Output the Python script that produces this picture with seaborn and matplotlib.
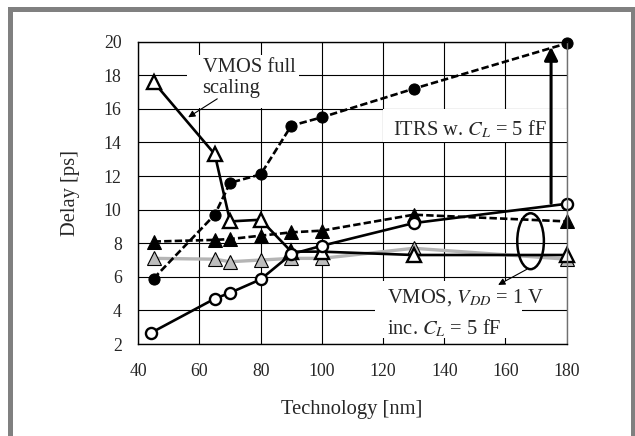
import numpy as np
import pandas as pd
import seaborn as sns

import matplotlib
matplotlib.use("Agg")
import matplotlib.pyplot as plt
from matplotlib.patches import Rectangle, Ellipse


'''
Data read off the chart
'''

tech_nm = [45, 65, 70, 80, 90, 100, 130, 180]
tech_nm_open = [44, 65, 70, 80, 90, 100, 130, 180]

itrs_delay = [5.9, 9.7, 11.6, 12.1, 15.0, 15.5, 17.2, 19.9]       # ITRS w. C_L = 5 fF
vmos_full_delay = [17.6, 13.3, 9.3, 9.4, 7.5, 7.5, 7.3, 7.3]       # VMOS full scaling
vmos_vdd_filled = [8.1, 8.2, 8.25, 8.45, 8.65, 8.75, 9.7, 9.3]     # dashed, filled triangles
vmos_vdd_gray = [7.1, 7.05, 6.9, 7.0, 7.1, 7.1, 7.7, 7.05]         # grey triangles
vmos_vdd_open = [2.65, 4.7, 5.05, 5.85, 7.35, 7.85, 9.2, 10.35]    # open circles

x_ticks = [40, 60, 80, 100, 120, 140, 160, 180]
y_ticks = [2, 4, 6, 8, 10, 12, 14, 16, 18, 20]


sns.set_theme(style="whitegrid", rc={
    "grid.color": "black",
    "grid.linewidth": 0.8,
    "axes.edgecolor": "black",
    "axes.linewidth": 1.0,
    "xtick.direction": "in",
    "ytick.direction": "in",
})
plt.rcParams["font.family"] = ["Liberation Serif", "DejaVu Serif"]
plt.rcParams["mathtext.fontset"] = "stix"

fig = plt.figure(figsize=(6.35, 4.36), dpi=100)
ax = fig.add_axes([0.2178, 0.2110, 0.6746, 0.6933])

dash = (0, (2.8, 1.2))
lw = 1.9

# grey triangles (bottom layer)
sns.lineplot(x=tech_nm, y=vmos_vdd_gray, ax=ax, color="#b5b5b5", lw=2.4,
             marker="^", markersize=10, markerfacecolor="#bdbdbd",
             markeredgecolor="black", markeredgewidth=0.8, zorder=3,
             clip_on=False)
# filled triangles, dashed
sns.lineplot(x=tech_nm, y=vmos_vdd_filled, ax=ax, color="black", lw=lw,
             linestyle=dash, marker="^", markersize=10,
             markerfacecolor="black", markeredgecolor="black", zorder=4,
             clip_on=False)
# VMOS full scaling, open triangles
sns.lineplot(x=tech_nm, y=vmos_full_delay, ax=ax, color="black", lw=lw,
             marker="^", markersize=9.5, markerfacecolor="white",
             markeredgecolor="black", markeredgewidth=1.7, zorder=5,
             clip_on=False)
# open circles
sns.lineplot(x=tech_nm_open, y=vmos_vdd_open, ax=ax, color="black", lw=lw,
             marker="o", markersize=8, markerfacecolor="white",
             markeredgecolor="black", markeredgewidth=1.7, zorder=6,
             clip_on=False)
# ITRS, filled circles, dashed
sns.lineplot(x=tech_nm, y=itrs_delay, ax=ax, color="black", lw=lw,
             linestyle=dash, marker="o", markersize=8,
             markerfacecolor="black", markeredgecolor="black", zorder=7,
             clip_on=False)

ax.set_xlim(40, 180)
ax.set_ylim(2, 20)
ax.set_xticks(x_ticks)
ax.set_yticks(y_ticks)
ax.tick_params(axis="both", labelsize=12.8, length=4, width=0.8, color="black")
ax.tick_params(axis="x", pad=14)
ax.tick_params(axis="y", pad=12)
ax.spines["right"].set_color("#707070")
for s in ["left", "top", "bottom", "right"]:
    ax.spines[s].set_zorder(8)

ax.set_xlabel("Technology [nm]", fontsize=14.8)
ax.set_ylabel("Delay [ps]", fontsize=14.8)
ax.xaxis.set_label_coords(0.499, -0.185)
ax.yaxis.set_label_coords(-0.136, 0.5)

# white boxes behind the labels (hide the grid)
ax.add_patch(Rectangle((55.9, 16.05), 36.6, 3.15, facecolor="white",
                       edgecolor="none", zorder=2))
ax.add_patch(Rectangle((120.0, 14.03), 60.0, 1.95, facecolor="white",
                       edgecolor="none", zorder=2))
ax.add_patch(Rectangle((117.3, 2.36), 48.1, 3.39, facecolor="white",
                       edgecolor="none", zorder=2))

fs = 14.8
ax.text(61.0, 18.21, "VMOS full", fontsize=fs, va="baseline", zorder=9)
ax.text(61.0, 16.93, "scaling", fontsize=fs, va="baseline", zorder=9)
ax.text(123.1, 14.45, "ITRS w. $C_L$ = 5 fF", fontsize=fs, va="baseline", zorder=9)
ax.text(121.2, 4.45, "VMOS, $V_{DD}$ = 1 V", fontsize=fs, va="baseline", zorder=9)
ax.text(121.2, 2.6, "inc. $C_L$ = 5 fF", fontsize=fs, va="baseline", zorder=9)

# arrows
ax.annotate("", xy=(56.3, 15.5), xytext=(65.8, 16.6),
            arrowprops=dict(arrowstyle="-|>", lw=0.8, color="black",
                            mutation_scale=10, shrinkA=0, shrinkB=0), zorder=9)
ax.annotate("", xy=(174.9, 19.7), xytext=(174.9, 10.38),
            arrowprops=dict(arrowstyle="-|>", lw=2.2, color="black",
                            mutation_scale=20, shrinkA=0, shrinkB=0), zorder=9)
ax.annotate("", xy=(157.6, 5.52), xytext=(167.0, 6.45),
            arrowprops=dict(arrowstyle="-|>", lw=0.8, color="black",
                            mutation_scale=10, shrinkA=0, shrinkB=0), zorder=9)
ax.add_patch(Ellipse((168.2, 8.12), 8.7, 3.33, fill=False, lw=1.8,
                     edgecolor="black", zorder=9))

# grey frame round the figure
fig.patches.append(Rectangle((9.5 / 635, -0.05), 623 / 635, 1.05 - 9.5 / 436,
                             transform=fig.transFigure, fill=False,
                             edgecolor="#808080", lw=3.6, clip_on=False))

fig.savefig("out.png", dpi=100)
